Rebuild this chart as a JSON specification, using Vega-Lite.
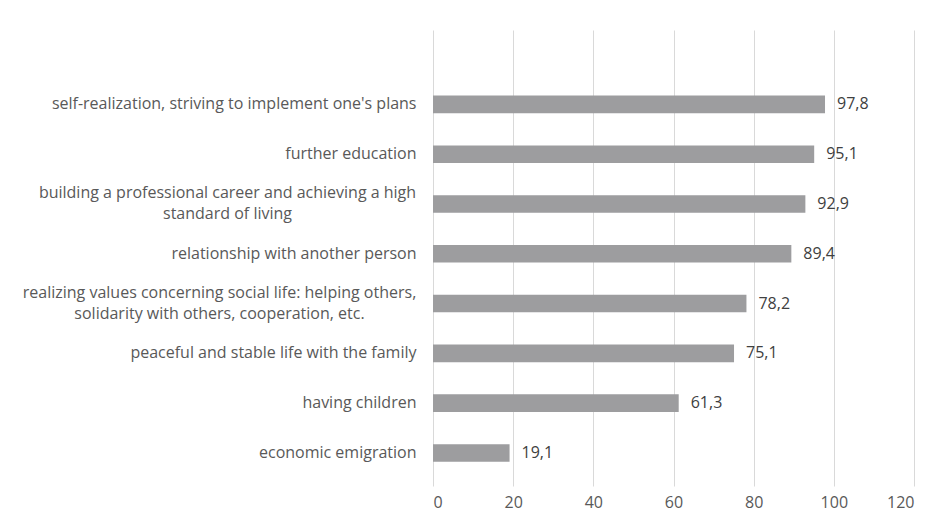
{
  "$schema": "https://vega.github.io/schema/vega-lite/v6.json",
  "autosize": "none",
  "padding": {"left": 433, "top": 30, "right": 32, "bottom": 34},
  "width": 481,
  "height": 456,
  "background": "white",
  "config": {
    "view": {"stroke": null},
    "locale": {"number": {"decimal": ",", "thousands": " ", "grouping": [3], "currency": ["", ""]}},
    "font": "Open Sans"
  },
  "data": {
    "values": [
      {"cat": "self-realization, striving to implement one's plans", "value": 97.8},
      {"cat": "further education", "value": 95.1},
      {"cat": "building a professional career and achieving a high|standard of living", "value": 92.9},
      {"cat": "relationship with another person", "value": 89.4},
      {"cat": "realizing values concerning social life: helping others,|solidarity with others, cooperation, etc.", "value": 78.2},
      {"cat": "peaceful and stable life with the family", "value": 75.1},
      {"cat": "having children", "value": 61.3},
      {"cat": "economic emigration", "value": 19.1}
    ]
  },
  "encoding": {
    "y": {
      "field": "cat",
      "type": "nominal",
      "sort": null,
      "title": null,
      "scale": {"paddingInner": 0.647, "paddingOuter": 0.902, "align": 0.73},
      "axis": {
        "domain": false,
        "ticks": false,
        "grid": false,
        "labelExpr": "split(datum.label, '|')",
        "labelFont": "Open Sans",
        "labelFontSize": 16,
        "labelColor": "#595959",
        "labelLimit": 500,
        "labelLineHeight": 21,
        "labelAlign": {"condition": {"test": "indexof(datum.value, '|') >= 0", "value": "center"}, "value": "right"},
        "labelOffset": {"condition": {"test": "indexof(datum.value, '|') >= 0", "value": -10.5}, "value": 0},
        "labelPadding": {"condition": [
          {"test": "indexof(datum.value, 'building') == 0", "value": 206},
          {"test": "indexof(datum.value, 'realizing') == 0", "value": 214}
        ], "value": 17}
      }
    }
  },
  "layer": [
    {
      "mark": {"type": "bar", "color": "#9d9d9f"},
      "encoding": {
        "x": {
          "field": "value",
          "type": "quantitative",
          "title": null,
          "scale": {"domain": [0, 120], "nice": false},
          "axis": {
            "values": [0, 20, 40, 60, 80, 100, 120],
            "format": "d",
            "domain": false,
            "ticks": false,
            "grid": true,
            "gridColor": "#d9d9d9",
            "gridWidth": 1,
            "labelFont": "Open Sans",
            "labelFontSize": 16,
            "labelColor": "#595959",
            "labelPadding": 8
          }
        }
      }
    },
    {
      "mark": {"type": "text", "align": "left", "baseline": "middle", "dx": 12, "fontSize": 16, "font": "Open Sans", "color": "#404040"},
      "encoding": {
        "x": {"field": "value", "type": "quantitative"},
        "text": {"field": "value", "type": "quantitative", "format": ".1f"}
      }
    }
  ]
}
